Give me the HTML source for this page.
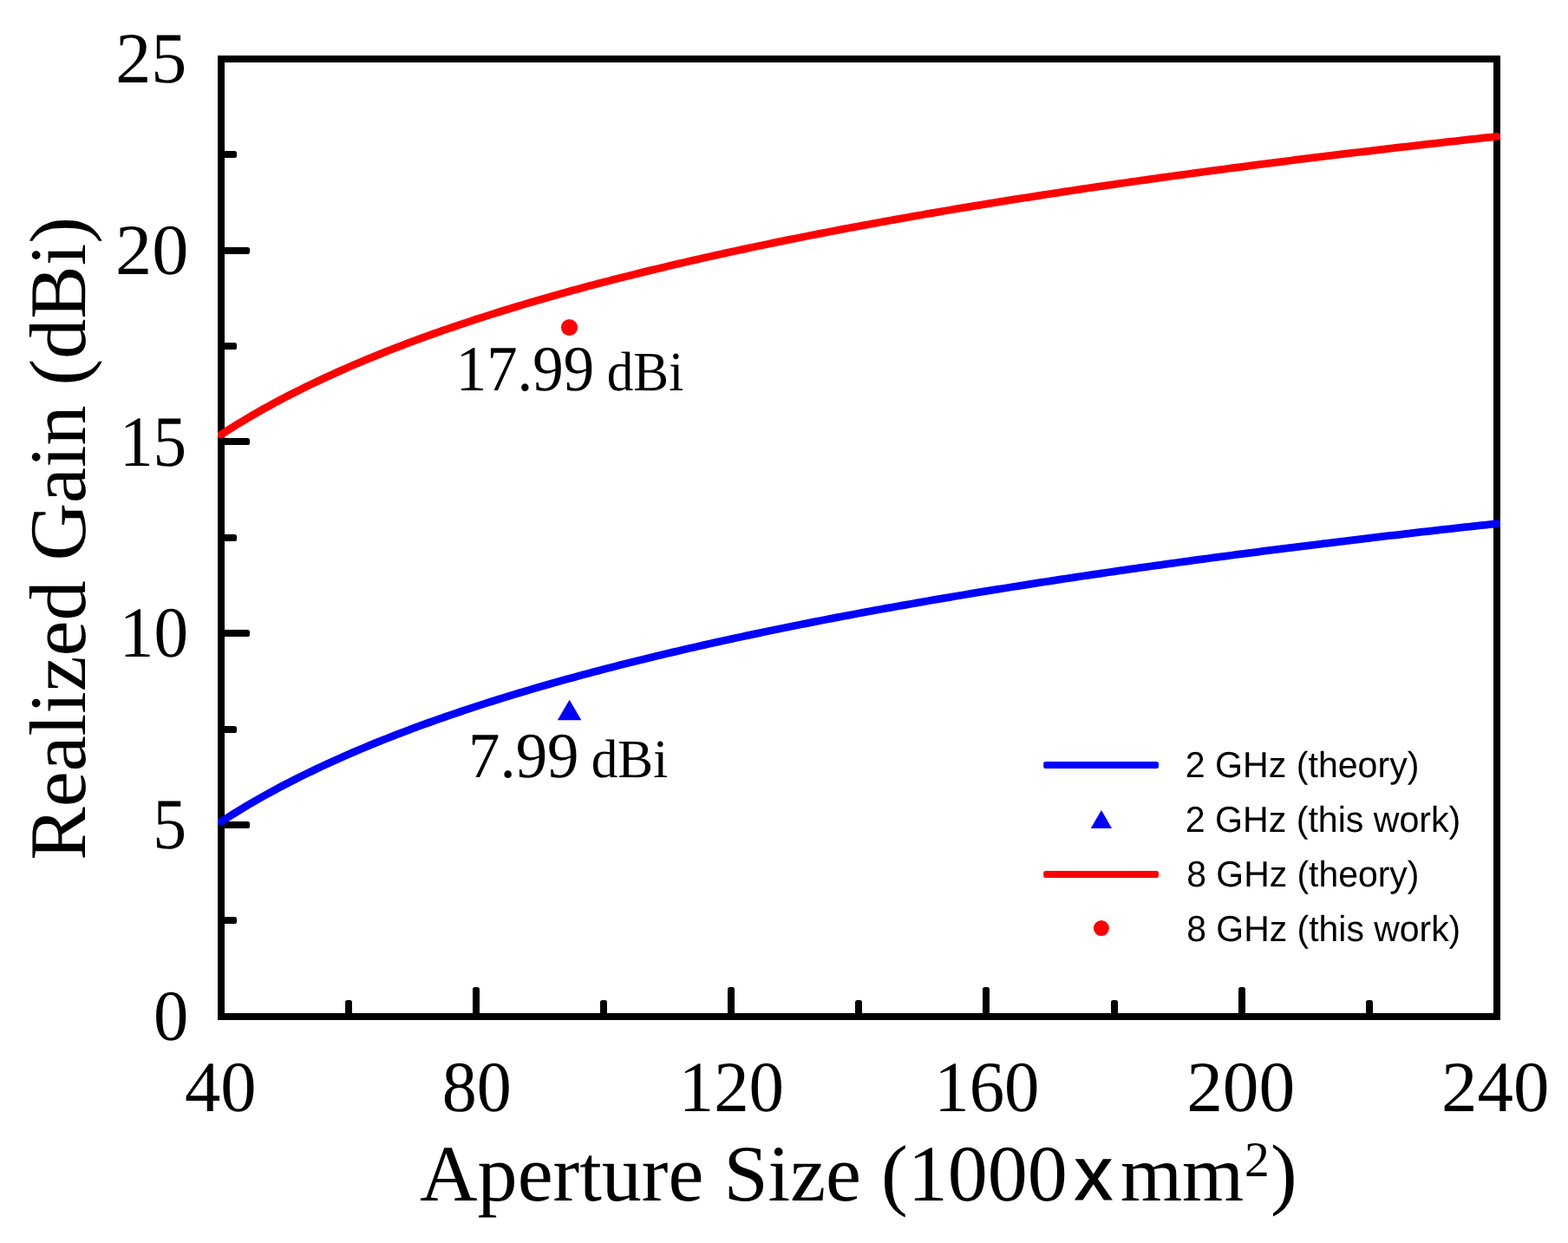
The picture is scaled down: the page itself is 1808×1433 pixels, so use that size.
<!DOCTYPE html>
<html lang="en"><head><meta charset="utf-8"><title>Realized Gain vs Aperture Size</title>
<style>
html,body{margin:0;padding:0;background:#fff;}
body{width:1808px;height:1433px;overflow:hidden;}
svg{display:block;}
text{font-kerning:none;font-variant-ligatures:none;text-rendering:geometricPrecision;fill:#000;white-space:pre;}
.serif{font-family:"Liberation Serif","Times New Roman",Times,serif;}
.sans{font-family:"Liberation Sans",Arial,Helvetica,sans-serif;}
</style></head><body>
<svg width="1808" height="1433" viewBox="0 0 1808 1433">
<rect x="0" y="0" width="1808" height="1433" fill="#ffffff"/>
<g fill="#000">
<rect x="255.00" y="1057" width="18.00" height="8" rx="2.6"/>
<rect x="255.00" y="947" width="33.00" height="8" rx="2.6"/>
<rect x="255.00" y="837" width="18.00" height="8" rx="2.6"/>
<rect x="255.00" y="726" width="33.00" height="8" rx="2.6"/>
<rect x="255.00" y="616" width="18.00" height="8" rx="2.6"/>
<rect x="255.00" y="505" width="33.00" height="8" rx="2.6"/>
<rect x="255.00" y="395" width="18.00" height="8" rx="2.6"/>
<rect x="255.00" y="285" width="33.00" height="8" rx="2.6"/>
<rect x="255.00" y="174" width="18.00" height="8" rx="2.6"/>
<rect x="398" y="1153.00" width="8" height="19.00" rx="2.6"/>
<rect x="545" y="1138.00" width="8" height="34.00" rx="2.6"/>
<rect x="692" y="1153.00" width="8" height="19.00" rx="2.6"/>
<rect x="839" y="1138.00" width="8" height="34.00" rx="2.6"/>
<rect x="986" y="1153.00" width="8" height="19.00" rx="2.6"/>
<rect x="1133" y="1138.00" width="8" height="34.00" rx="2.6"/>
<rect x="1281" y="1153.00" width="8" height="19.00" rx="2.6"/>
<rect x="1428" y="1138.00" width="8" height="34.00" rx="2.6"/>
<rect x="1575" y="1153.00" width="8" height="19.00" rx="2.6"/>
</g>
<rect x="255.0" y="68.0" width="1471.0" height="1104.0" fill="none" stroke="#000" stroke-width="8"/>
<clipPath id="plotclip"><rect x="251" y="64" width="1479" height="1112"/></clipPath>
<g clip-path="url(#plotclip)">
<path d="M255.00 947.31 L261.13 943.36 L267.26 939.48 L273.39 935.69 L279.52 931.96 L285.65 928.31 L291.77 924.72 L297.90 921.21 L304.03 917.75 L310.16 914.36 L316.29 911.02 L322.42 907.74 L328.55 904.52 L334.68 901.35 L340.81 898.23 L346.94 895.16 L353.07 892.14 L359.20 889.17 L365.32 886.24 L371.45 883.36 L377.58 880.51 L383.71 877.71 L389.84 874.95 L395.97 872.23 L402.10 869.55 L408.23 866.91 L414.36 864.30 L420.49 861.72 L426.62 859.18 L432.75 856.68 L438.88 854.20 L445.00 851.76 L451.13 849.35 L457.26 846.96 L463.39 844.61 L469.52 842.29 L475.65 839.99 L481.78 837.72 L487.91 835.48 L494.04 833.26 L500.17 831.07 L506.30 828.90 L512.42 826.76 L518.55 824.64 L524.68 822.54 L530.81 820.47 L536.94 818.42 L543.07 816.39 L549.20 814.38 L555.33 812.39 L561.46 810.42 L567.59 808.48 L573.72 806.55 L579.85 804.64 L585.98 802.75 L592.10 800.88 L598.23 799.03 L604.36 797.19 L610.49 795.37 L616.62 793.57 L622.75 791.79 L628.88 790.02 L635.01 788.27 L641.14 786.54 L647.27 784.82 L653.40 783.11 L659.53 781.42 L665.65 779.75 L671.78 778.09 L677.91 776.44 L684.04 774.81 L690.17 773.19 L696.30 771.58 L702.43 769.99 L708.56 768.41 L714.69 766.85 L720.82 765.30 L726.95 763.75 L733.08 762.23 L739.20 760.71 L745.33 759.21 L751.46 757.71 L757.59 756.23 L763.72 754.76 L769.85 753.30 L775.98 751.86 L782.11 750.42 L788.24 748.99 L794.37 747.58 L800.50 746.17 L806.62 744.78 L812.75 743.39 L818.88 742.02 L825.01 740.65 L831.14 739.30 L837.27 737.95 L843.40 736.62 L849.53 735.29 L855.66 733.97 L861.79 732.66 L867.92 731.36 L874.05 730.07 L880.17 728.79 L886.30 727.51 L892.43 726.25 L898.56 724.99 L904.69 723.74 L910.82 722.50 L916.95 721.27 L923.08 720.04 L929.21 718.82 L935.34 717.61 L941.47 716.41 L947.60 715.22 L953.73 714.03 L959.85 712.85 L965.98 711.68 L972.11 710.51 L978.24 709.35 L984.37 708.20 L990.50 707.05 L996.63 705.92 L1002.76 704.78 L1008.89 703.66 L1015.02 702.54 L1021.15 701.43 L1027.28 700.32 L1033.40 699.22 L1039.53 698.13 L1045.66 697.05 L1051.79 695.96 L1057.92 694.89 L1064.05 693.82 L1070.18 692.76 L1076.31 691.70 L1082.44 690.65 L1088.57 689.61 L1094.70 688.57 L1100.82 687.53 L1106.95 686.50 L1113.08 685.48 L1119.21 684.46 L1125.34 683.45 L1131.47 682.45 L1137.60 681.44 L1143.73 680.45 L1149.86 679.46 L1155.99 678.47 L1162.12 677.49 L1168.25 676.51 L1174.38 675.54 L1180.50 674.58 L1186.63 673.62 L1192.76 672.66 L1198.89 671.71 L1205.02 670.76 L1211.15 669.82 L1217.28 668.88 L1223.41 667.95 L1229.54 667.02 L1235.67 666.09 L1241.80 665.17 L1247.93 664.26 L1254.05 663.35 L1260.18 662.44 L1266.31 661.54 L1272.44 660.64 L1278.57 659.75 L1284.70 658.86 L1290.83 657.97 L1296.96 657.09 L1303.09 656.21 L1309.22 655.34 L1315.35 654.47 L1321.47 653.60 L1327.60 652.74 L1333.73 651.88 L1339.86 651.03 L1345.99 650.18 L1352.12 649.33 L1358.25 648.49 L1364.38 647.65 L1370.51 646.81 L1376.64 645.98 L1382.77 645.15 L1388.90 644.33 L1395.03 643.50 L1401.15 642.69 L1407.28 641.87 L1413.41 641.06 L1419.54 640.25 L1425.67 639.45 L1431.80 638.65 L1437.93 637.85 L1444.06 637.06 L1450.19 636.27 L1456.32 635.48 L1462.45 634.69 L1468.58 633.91 L1474.70 633.14 L1480.83 632.36 L1486.96 631.59 L1493.09 630.82 L1499.22 630.05 L1505.35 629.29 L1511.48 628.53 L1517.61 627.78 L1523.74 627.02 L1529.87 626.27 L1536.00 625.52 L1542.12 624.78 L1548.25 624.04 L1554.38 623.30 L1560.51 622.56 L1566.64 621.83 L1572.77 621.10 L1578.90 620.37 L1585.03 619.64 L1591.16 618.92 L1597.29 618.20 L1603.42 617.49 L1609.55 616.77 L1615.67 616.06 L1621.80 615.35 L1627.93 614.64 L1634.06 613.94 L1640.19 613.24 L1646.32 612.54 L1652.45 611.84 L1658.58 611.15 L1664.71 610.46 L1670.84 609.77 L1676.97 609.09 L1683.10 608.40 L1689.22 607.72 L1695.35 607.04 L1701.48 606.36 L1707.61 605.69 L1713.74 605.02 L1719.87 604.35 L1726.00 603.68" fill="none" stroke="#0000ff" stroke-width="8.8" stroke-linejoin="round" stroke-linecap="round"/>
<path d="M255.00 500.99 L261.13 497.03 L267.26 493.16 L273.39 489.36 L279.52 485.64 L285.65 481.98 L291.77 478.40 L297.90 474.88 L304.03 471.43 L310.16 468.03 L316.29 464.70 L322.42 461.42 L328.55 458.19 L334.68 455.02 L340.81 451.90 L346.94 448.84 L353.07 445.82 L359.20 442.84 L365.32 439.91 L371.45 437.03 L377.58 434.19 L383.71 431.39 L389.84 428.63 L395.97 425.91 L402.10 423.23 L408.23 420.58 L414.36 417.97 L420.49 415.40 L426.62 412.86 L432.75 410.35 L438.88 407.88 L445.00 405.43 L451.13 403.02 L457.26 400.64 L463.39 398.28 L469.52 395.96 L475.65 393.66 L481.78 391.39 L487.91 389.15 L494.04 386.93 L500.17 384.74 L506.30 382.57 L512.42 380.43 L518.55 378.31 L524.68 376.22 L530.81 374.14 L536.94 372.09 L543.07 370.06 L549.20 368.05 L555.33 366.07 L561.46 364.10 L567.59 362.15 L573.72 360.22 L579.85 358.32 L585.98 356.43 L592.10 354.56 L598.23 352.70 L604.36 350.87 L610.49 349.05 L616.62 347.25 L622.75 345.47 L628.88 343.70 L635.01 341.95 L641.14 340.21 L647.27 338.49 L653.40 336.79 L659.53 335.10 L665.65 333.42 L671.78 331.76 L677.91 330.11 L684.04 328.48 L690.17 326.86 L696.30 325.26 L702.43 323.67 L708.56 322.09 L714.69 320.52 L720.82 318.97 L726.95 317.43 L733.08 315.90 L739.20 314.39 L745.33 312.88 L751.46 311.39 L757.59 309.91 L763.72 308.44 L769.85 306.98 L775.98 305.53 L782.11 304.10 L788.24 302.67 L794.37 301.25 L800.50 299.85 L806.62 298.45 L812.75 297.07 L818.88 295.69 L825.01 294.33 L831.14 292.97 L837.27 291.63 L843.40 290.29 L849.53 288.96 L855.66 287.65 L861.79 286.34 L867.92 285.04 L874.05 283.75 L880.17 282.46 L886.30 281.19 L892.43 279.92 L898.56 278.67 L904.69 277.42 L910.82 276.17 L916.95 274.94 L923.08 273.72 L929.21 272.50 L935.34 271.29 L941.47 270.09 L947.60 268.89 L953.73 267.70 L959.85 266.52 L965.98 265.35 L972.11 264.18 L978.24 263.03 L984.37 261.87 L990.50 260.73 L996.63 259.59 L1002.76 258.46 L1008.89 257.33 L1015.02 256.22 L1021.15 255.10 L1027.28 254.00 L1033.40 252.90 L1039.53 251.81 L1045.66 250.72 L1051.79 249.64 L1057.92 248.57 L1064.05 247.50 L1070.18 246.43 L1076.31 245.38 L1082.44 244.33 L1088.57 243.28 L1094.70 242.24 L1100.82 241.21 L1106.95 240.18 L1113.08 239.16 L1119.21 238.14 L1125.34 237.13 L1131.47 236.12 L1137.60 235.12 L1143.73 234.12 L1149.86 233.13 L1155.99 232.15 L1162.12 231.16 L1168.25 230.19 L1174.38 229.22 L1180.50 228.25 L1186.63 227.29 L1192.76 226.33 L1198.89 225.38 L1205.02 224.43 L1211.15 223.49 L1217.28 222.55 L1223.41 221.62 L1229.54 220.69 L1235.67 219.77 L1241.80 218.85 L1247.93 217.93 L1254.05 217.02 L1260.18 216.12 L1266.31 215.21 L1272.44 214.31 L1278.57 213.42 L1284.70 212.53 L1290.83 211.64 L1296.96 210.76 L1303.09 209.88 L1309.22 209.01 L1315.35 208.14 L1321.47 207.28 L1327.60 206.41 L1333.73 205.56 L1339.86 204.70 L1345.99 203.85 L1352.12 203.00 L1358.25 202.16 L1364.38 201.32 L1370.51 200.49 L1376.64 199.65 L1382.77 198.83 L1388.90 198.00 L1395.03 197.18 L1401.15 196.36 L1407.28 195.55 L1413.41 194.74 L1419.54 193.93 L1425.67 193.12 L1431.80 192.32 L1437.93 191.53 L1444.06 190.73 L1450.19 189.94 L1456.32 189.15 L1462.45 188.37 L1468.58 187.59 L1474.70 186.81 L1480.83 186.04 L1486.96 185.26 L1493.09 184.49 L1499.22 183.73 L1505.35 182.97 L1511.48 182.21 L1517.61 181.45 L1523.74 180.70 L1529.87 179.95 L1536.00 179.20 L1542.12 178.45 L1548.25 177.71 L1554.38 176.97 L1560.51 176.24 L1566.64 175.50 L1572.77 174.77 L1578.90 174.04 L1585.03 173.32 L1591.16 172.60 L1597.29 171.88 L1603.42 171.16 L1609.55 170.45 L1615.67 169.73 L1621.80 169.03 L1627.93 168.32 L1634.06 167.62 L1640.19 166.91 L1646.32 166.22 L1652.45 165.52 L1658.58 164.83 L1664.71 164.13 L1670.84 163.45 L1676.97 162.76 L1683.10 162.08 L1689.22 161.39 L1695.35 160.72 L1701.48 160.04 L1707.61 159.37 L1713.74 158.69 L1719.87 158.02 L1726.00 157.36" fill="none" stroke="#ff0000" stroke-width="8.8" stroke-linejoin="round" stroke-linecap="round"/>
</g>
<circle cx="656.5" cy="377.5" r="9.55" fill="#ff0000"/>
<polygon points="656.60,806.80 642.85,830.20 670.35,830.20" fill="#0000ff"/>
<text class="serif" font-size="83.10" transform="translate(133.19 95.00) scale(0.9875 1)">25</text>
<text class="serif" font-size="83.10" transform="translate(133.09 315.80) scale(1.0146 1)">20</text>
<text class="serif" font-size="83.10" transform="translate(138.02 536.80) scale(0.9276 1)">15</text>
<text class="serif" font-size="83.10" transform="translate(137.84 757.00) scale(0.9528 1)">10</text>
<text class="serif" font-size="83.10" transform="translate(176.29 978.10) scale(0.9350 1)">5</text>
<text class="serif" font-size="83.10" transform="translate(176.93 1199.10) scale(0.9710 1)">0</text>
<text class="serif" font-size="83.10" transform="translate(212.99 1280.60) scale(0.9947 1)">40</text>
<text class="serif" font-size="83.10" transform="translate(509.85 1280.60) scale(0.9626 1)">80</text>
<text class="serif" font-size="83.10" transform="translate(782.69 1280.60) scale(0.9739 1)">120</text>
<text class="serif" font-size="83.10" transform="translate(1077.19 1280.60) scale(0.9739 1)">160</text>
<text class="serif" font-size="83.10" transform="translate(1368.13 1280.60) scale(1.0040 1)">200</text>
<text class="serif" font-size="83.10" transform="translate(1662.06 1280.60) scale(0.9972 1)">240</text>
<text class="serif" font-size="92"><tspan class="serif" x="484.10" y="1383.70" font-size="92.10">Aperture Size (1000</tspan><tspan class="sans" x="1238.92" y="1382.90" font-size="87.44" stroke="#000" stroke-width="1.2">x</tspan><tspan class="serif" x="1291.88" y="1383.70" font-size="91.44">mm</tspan><tspan class="serif" x="1434.90" y="1356.30" font-size="57.50">2</tspan><tspan class="serif" x="1464.92" y="1383.30" font-size="92.00">)</tspan></text>
<text class="serif" font-size="92.50" transform="translate(98.00 991.65) rotate(-90) scale(0.9957 1)">Realized Gain (dBi)</text>
<text class="serif" font-size="74.40" transform="translate(525.72 450.30) scale(0.9521 1)">17.99<tspan x="166.64" font-size="64.32"> dBi</tspan></text>
<text class="serif" font-size="74.40" transform="translate(540.00 895.60) scale(0.9792 1)">7.99<tspan x="129.07" font-size="62.54"> dBi</tspan></text>
<rect x="1203.2" y="877.90" width="132.8" height="8" rx="2.5" fill="#0000ff"/>
<polygon points="1269.90,933.90 1257.75,954.90 1282.05,954.90" fill="#0000ff"/>
<rect x="1203.2" y="1004.00" width="132.8" height="8" rx="2.5" fill="#ff0000"/>
<circle cx="1269.9" cy="1070.1" r="9" fill="#ff0000"/>
<text class="sans" font-size="41.80" transform="translate(1366.83 896.10) scale(0.9837 1)">2 GHz (theory)</text>
<text class="sans" font-size="41.80" transform="translate(1366.83 959.20) scale(0.9832 1)">2 GHz (this work)</text>
<text class="sans" font-size="41.80" transform="translate(1368.22 1022.20) scale(0.9786 1)">8 GHz (theory)</text>
<text class="sans" font-size="41.80" transform="translate(1368.22 1085.30) scale(0.9789 1)">8 GHz (this work)</text>
</svg></body></html>
